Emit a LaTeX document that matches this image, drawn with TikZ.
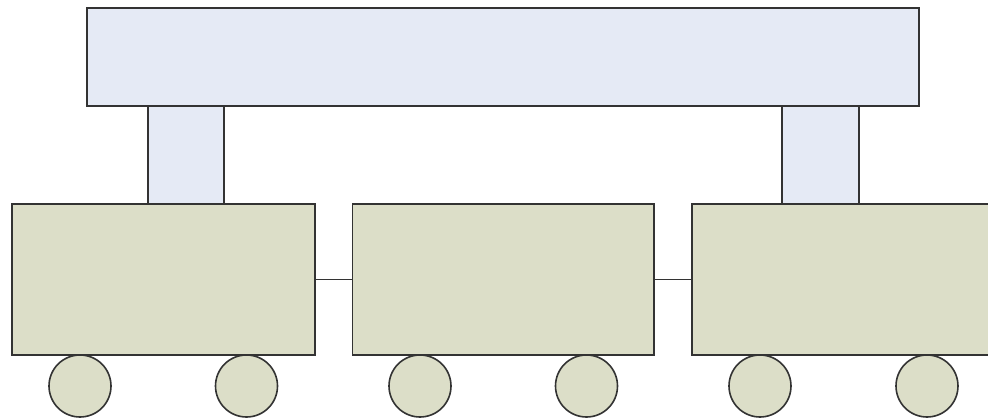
\documentclass[tikz,border=0pt]{standalone}
\begin{document}
\begin{tikzpicture}[x=1pt,y=-1pt,
  edgecol/.style={draw=black!80, line width=1.6pt},
  beamfill/.style={edgecol, fill={rgb,255:red,229;green,234;blue,245}, rectangle, inner sep=0pt, outer sep=0pt},
  carbox/.style={edgecol, fill={rgb,255:red,220;green,222;blue,200}, rectangle, inner sep=0pt, outer sep=0pt, minimum height=151pt},
  wheel/.style={edgecol, fill={rgb,255:red,220;green,222;blue,200}, circle, inner sep=0pt, outer sep=0pt, minimum size=62pt},
  coupler/.style={draw=black!80, line width=1.5pt}]
\useasboundingbox (0,0) rectangle (988,418);
\clip (0,0) rectangle (988,418);
% wheels
\node[wheel] (w1) at (80,386) {};
\node[wheel] (w2) at (246.5,386) {};
\node[wheel] (w3) at (420,386) {};
\node[wheel] (w4) at (586.5,386) {};
\node[wheel] (w5) at (760,386) {};
\node[wheel] (w6) at (927,386) {};
% pillars and beam
\node[beamfill, minimum width=76pt, minimum height=98pt] (pl) at (186,155) {};
\node[beamfill, minimum width=77pt, minimum height=98pt] (pr) at (820.5,155) {};
\node[beamfill, minimum width=832pt, minimum height=98pt] (beam) at (503,57) {};
% cars
\node[carbox, minimum width=303pt] (c1) at (163.5,279.5) {};
\node[carbox, minimum width=301.5pt] (c2) at (503.25,279.5) {};
\node[carbox, minimum width=303pt] (c3) at (843.5,279.5) {};
% couplers
\draw[coupler] (c1.east) -- (c2.west);
\draw[coupler] (c2.east) -- (c3.west);
\end{tikzpicture}
\end{document}
